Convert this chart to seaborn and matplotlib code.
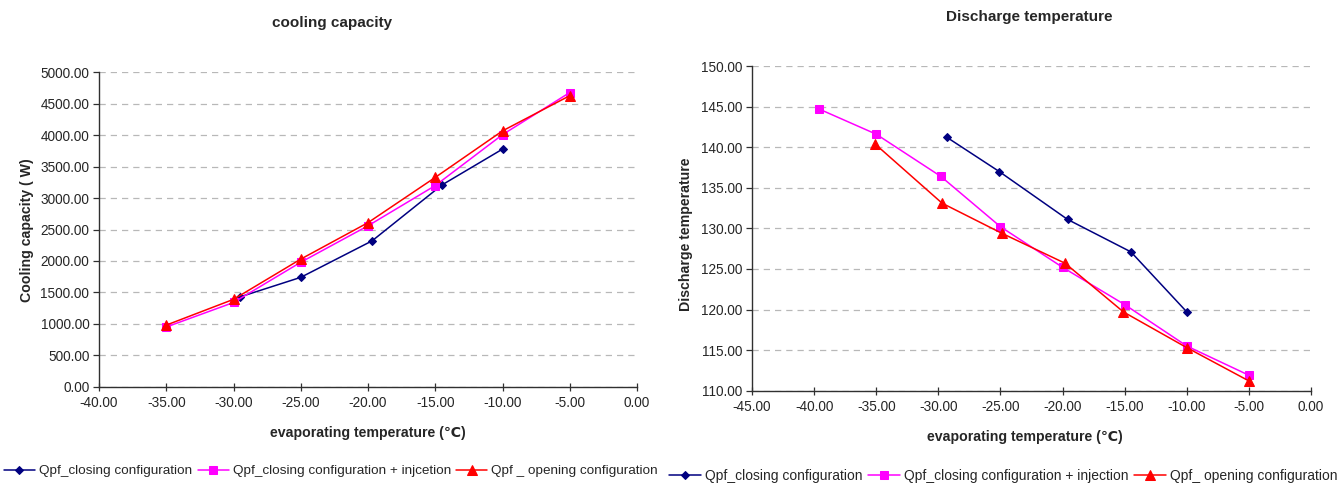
import matplotlib
matplotlib.use("Agg")
import matplotlib.pyplot as plt
import seaborn as sns
import pandas as pd
from matplotlib.ticker import FormatStrFormatter, MultipleLocator

sns.set_theme(style="white")
plt.rcParams["font.family"] = ["Liberation Sans", "DejaVu Sans"]

# ---- cooling capacity (W) vs evaporating temperature (C) ----
cap_closing_t = [-29.5, -25.0, -19.7, -14.5, -10.0]
cap_closing_q = [1430, 1740, 2320, 3210, 3780]
cap_inj_t = [-35.0, -30.0, -25.0, -20.0, -15.0, -10.0, -5.0]
cap_inj_q = [950, 1340, 1980, 2560, 3200, 4010, 4680]
cap_open_t = [-35.0, -30.0, -25.0, -20.0, -15.0, -10.0, -5.0]
cap_open_q = [980, 1390, 2030, 2610, 3330, 4070, 4630]

# ---- discharge temperature vs evaporating temperature (C) ----
dis_closing_t = [-29.3, -25.1, -19.6, -14.5, -10.0]
dis_closing_v = [141.2, 137.0, 131.1, 127.1, 119.7]
dis_inj_t = [-39.6, -35.0, -29.8, -25.0, -20.0, -15.0, -10.0, -5.0]
dis_inj_v = [144.7, 141.6, 136.4, 130.2, 125.2, 120.6, 115.5, 111.9]
dis_open_t = [-35.1, -29.7, -24.9, -19.8, -15.1, -10.0, -5.0]
dis_open_v = [140.4, 133.1, 129.4, 125.7, 119.7, 115.3, 111.2]

left_labels = ["Qpf_closing configuration",
               "Qpf_closing configuration + injcetion",
               "Qpf _ opening configuration"]
right_labels = ["Qpf_closing configuration",
                "Qpf_closing configuration + injection",
                "Qpf_ opening configuration"]

colors = ["#000080", "#FF00FF", "#FF0000"]
markers = ["D", "s", "^"]
msizes = [4.5, 5.5, 6.5]

fig = plt.figure(figsize=(13.4, 4.84), dpi=100)
ax1 = fig.add_axes([0.0739, 0.201, 0.4015, 0.6494])
ax2 = fig.add_axes([0.5612, 0.1928, 0.4172, 0.6708])

def draw(ax, series, labels):
    handles = []
    for (x, y), lab, c, m, ms in zip(series, labels, colors, markers, msizes):
        df = pd.DataFrame({"x": x, "y": y})
        sns.lineplot(data=df, x="x", y="y", ax=ax, sort=False, color=c,
                     marker=m, markersize=ms, markeredgecolor=c,
                     linewidth=1.1, label=lab, legend=False)
        handles.append(ax.lines[-1])
    return handles

h1 = draw(ax1, [(cap_closing_t, cap_closing_q), (cap_inj_t, cap_inj_q),
                (cap_open_t, cap_open_q)], left_labels)
h2 = draw(ax2, [(dis_closing_t, dis_closing_v), (dis_inj_t, dis_inj_v),
                (dis_open_t, dis_open_v)], right_labels)

tick_fs = 9.8
for ax in (ax1, ax2):
    for s in ("top", "right"):
        ax.spines[s].set_visible(False)
    for s in ("left", "bottom"):
        ax.spines[s].set_color("#303030")
        ax.spines[s].set_linewidth(1.0)
    ax.yaxis.grid(True, color="#b8b8b8", linestyle=(0, (5, 4)), linewidth=0.9)
    ax.xaxis.grid(False)
    ax.set_axisbelow(True)
    ax.xaxis.set_major_formatter(FormatStrFormatter("%.2f"))
    ax.yaxis.set_major_formatter(FormatStrFormatter("%.2f"))
    ax.tick_params(axis="x", direction="inout", length=6, width=0.9,
                   color="#303030", labelsize=tick_fs, pad=4, bottom=True)
    ax.tick_params(axis="y", direction="out", length=4, width=0.9,
                   color="#303030", labelsize=tick_fs, pad=3, left=True)
    ax.set_xlabel("")
    ax.set_ylabel("")

ax1.set_xlim(-40, 0)
ax1.set_ylim(0, 5000)
ax1.xaxis.set_major_locator(MultipleLocator(5))
ax1.yaxis.set_major_locator(MultipleLocator(500))

ax2.set_xlim(-45, 0)
ax2.set_ylim(110, 150)
ax2.xaxis.set_major_locator(MultipleLocator(5))
ax2.yaxis.set_major_locator(MultipleLocator(5))

title_kw = dict(fontweight="bold", fontsize=11, ha="center", va="center")
label_kw = dict(fontweight="bold", fontsize=10.2, ha="center", va="center")
fig.text(332 / 1340, 1 - 23 / 484, "cooling capacity", **title_kw)
fig.text(1029 / 1340, 1 - 17 / 484, "Discharge temperature", **title_kw)
fig.text(368 / 1340, 1 - 433 / 484, "evaporating temperature (℃)", **label_kw)
fig.text(1025 / 1340, 1 - 437 / 484, "evaporating temperature (℃)", **label_kw)
fig.text(27 / 1340, 1 - 230 / 484, "Cooling capacity ( W)", rotation=90, **label_kw)
fig.text(686 / 1340, 1 - 234 / 484, "Discharge temperature", rotation=90, **label_kw)

leg_kw = dict(ncol=3, frameon=False, handlelength=2.3,
              handletextpad=0.3, columnspacing=0.4, borderaxespad=0,
              borderpad=0)
fig.legend(h1, left_labels, loc="center left", fontsize=9.7,
           bbox_to_anchor=(4 / 1340, 1 - 471 / 484), **leg_kw)
fig.legend(h2, right_labels, loc="center left", fontsize=10,
           bbox_to_anchor=(669 / 1340, 1 - 476 / 484), **leg_kw)

fig.savefig("out.png", dpi=100)
